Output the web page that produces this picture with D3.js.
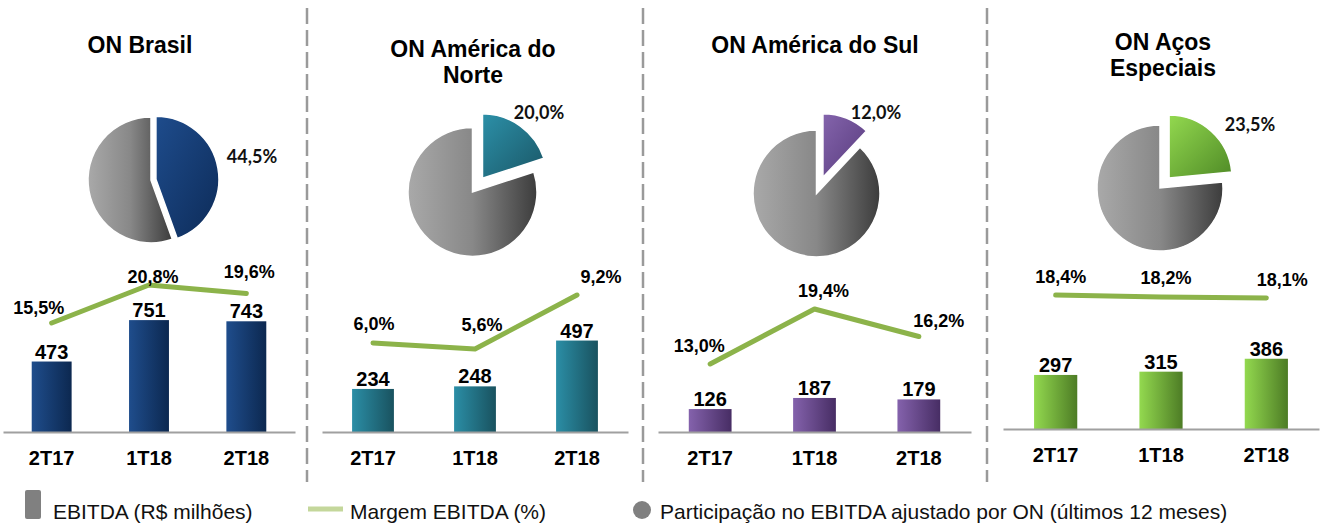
<!DOCTYPE html>
<html>
<head>
<meta charset="utf-8">
<script src="https://cdn.jsdelivr.net/npm/d3@7"></script>
<style>
  body { margin: 0; background: #fff; }
  svg { display: block; font-family: "Liberation Sans", Arial, sans-serif; }
</style>
</head>
<body>
<div id="viz-container"></div>
<script>
// data
let categories = ["2T17", "1T18", "2T18"];
let titles = [["ON Brasil"], ["ON América do", "Norte"], ["ON América do Sul"], ["ON Aços", "Especiais"]];
let ebitda = [[473, 751, 743], [234, 248, 497], [126, 187, 179], [297, 315, 386]];
let margem = [[15.5, 20.8, 19.6], [6.0, 5.6, 9.2], [13.0, 19.4, 16.2], [18.4, 18.2, 18.1]];
let participacao = [44.5, 20.0, 12.0, 23.5];
let legendItems = ["EBITDA (R$ milhões)", "Margem EBITDA (%)", "Participação no EBITDA ajustado por ON (últimos 12 meses)"];

// layout / style per panel
let panels = [
  { x0: 3, x1: 295, base: 432, px1000: 149, lineY: [323, 285], titleX: 140, titleY: [53],
    pie: { cx: 151, cy: 180, r: 63, explode: 5, lx: 252, ly: 163 },
    off: [[-13, -9], [4, -2], [3, -16]],
    bar: ["#1f4d8c", "#0c2850"], slice: ["#1e4c8c", "#0d2b58"] },
  { x0: 322, x1: 628, base: 432, px1000: 184, lineY: [349, 295], titleX: 473, titleY: [57, 83],
    pie: { cx: 472.5, cy: 192, r: 64.5, explode: 17, lx: 539, ly: 119 },
    off: [[1, -13], [7, -18], [24, -12]],
    bar: ["#2b8ea6", "#19525f"], slice: ["#2c90a8", "#1a5666"] },
  { x0: 658, x1: 971, base: 432, px1000: 182, lineY: [364, 309], titleX: 815, titleY: [53],
    pie: { cx: 816.5, cy: 193.5, r: 63.5, explode: 17.5, lx: 876, ly: 119 },
    off: [[-11, -12], [9, -12], [20, -10]],
    bar: ["#8462ac", "#472d64"], slice: ["#8464ac", "#573a7c"] },
  { x0: 1003, x1: 1319, base: 429, px1000: 182, lineY: [298, 295], titleX: 1163, titleY: [50, 76],
    pie: { cx: 1160, cy: 188, r: 63, explode: 13.5, lx: 1250, ly: 131 },
    off: [[5, -12], [5, -13], [16, -12]],
    bar: ["#93d94f", "#4d7c25"], slice: ["#93d94f", "#4f8a26"] }
];
let separators = [307, 643, 987];
let lineColor = "#8cb34a";

let W = 1321, H = 526;
let viz = d3.select("#viz-container")
  .append("svg")
    .attr("id", "viz")
    .attr("width", W)
    .attr("height", H)
  ;
let defs = viz.append("defs");

let grayGrad = defs.append("linearGradient").attr("id", "gray").attr("x1", 0).attr("x2", 1).attr("y1", 0).attr("y2", 0);
grayGrad.append("stop").attr("offset", "0%").attr("stop-color", "#a9a9a9");
grayGrad.append("stop").attr("offset", "50%").attr("stop-color", "#888888");
grayGrad.append("stop").attr("offset", "100%").attr("stop-color", "#3c3c3c");

// dashed separators
viz.selectAll("line.sep").data(separators).enter()
  .append("line")
    .attr("class", "sep")
    .attr("x1", d => d).attr("x2", d => d)
    .attr("y1", 8).attr("y2", 482)
    .style("stroke", "#9a9a9a")
    .style("stroke-width", 2.5)
    .style("stroke-dasharray", "16,6")
  ;

panels.forEach(function(p, i){
  let g = viz.append("g");

  let barGrad = defs.append("linearGradient").attr("id", "bar" + i).attr("x1", 0).attr("x2", 1).attr("y1", 0).attr("y2", 0);
  barGrad.append("stop").attr("offset", "0%").attr("stop-color", p.bar[0]);
  barGrad.append("stop").attr("offset", "100%").attr("stop-color", p.bar[1]);
  let sliceGrad = defs.append("linearGradient").attr("id", "slice" + i).attr("x1", 0).attr("x2", 1).attr("y1", 0).attr("y2", 1);
  sliceGrad.append("stop").attr("offset", "0%").attr("stop-color", p.slice[0]);
  sliceGrad.append("stop").attr("offset", "100%").attr("stop-color", p.slice[1]);

  // title
  g.selectAll("text.title").data(titles[i]).enter()
    .append("text")
      .attr("x", p.titleX)
      .attr("y", (d, j) => p.titleY[j])
      .attr("text-anchor", "middle")
      .style("font-size", "23px")
      .style("font-weight", "bold")
      .style("fill", "#000")
      .text(d => d)
    ;

  // pie
  let pie = d3.pie().sort(null).value(d => d);
  let arcs = pie([participacao[i], 100 - participacao[i]]);
  let arc = d3.arc().innerRadius(0).outerRadius(p.pie.r);
  let pg = g.append("g").attr("transform", "translate(" + p.pie.cx + "," + p.pie.cy + ")");
  pg.selectAll("path").data(arcs).enter()
    .append("path")
      .attr("d", arc)
      .attr("transform", function(d, j){
        if(j > 0) return null;
        let a = (d.startAngle + d.endAngle) / 2;
        return "translate(" + (Math.sin(a) * p.pie.explode) + "," + (-Math.cos(a) * p.pie.explode) + ")";
      })
      .style("fill", (d, j) => j == 0 ? "url(#slice" + i + ")" : "url(#gray)")
      .style("stroke", "#fff")
      .style("stroke-width", 1.5)
    ;
  g.append("text")
    .attr("x", p.pie.lx)
    .attr("y", p.pie.ly)
    .attr("text-anchor", "middle")
    .style("font-family", "Lato, 'Open Sans', sans-serif")
    .style("font-size", "18px")
    .style("font-weight", "bold")
    .style("fill", "#111")
    .text(d3.format(".1f")(participacao[i]).replace(".", ",") + "%");

  // bars
  let x = d3.scaleBand().domain(categories).range([p.x0, p.x1]).paddingInner(0.59).paddingOuter(0.295);
  let y = d3.scaleLinear().domain([0, 1000]).range([p.base, p.base - p.px1000]);
  let rows = categories.map((c, j) => ({ cat: c, v: ebitda[i][j], m: margem[i][j], off: p.off[j] }));

  g.selectAll("rect.bar").data(rows).enter()
    .append("rect")
      .attr("class", "bar")
      .attr("x", d => x(d.cat))
      .attr("width", x.bandwidth())
      .attr("y", d => y(d.v))
      .attr("height", d => p.base - y(d.v))
      .style("fill", "url(#bar" + i + ")")
    ;
  g.selectAll("text.val").data(rows).enter()
    .append("text")
      .attr("x", d => x(d.cat) + x.bandwidth() / 2)
      .attr("y", d => y(d.v) - 3)
      .attr("text-anchor", "middle")
      .style("font-size", "20px")
      .style("font-weight", "bold")
      .style("fill", "#000")
      .text(d => d.v)
    ;

  // axis
  let axis = g.append("g")
    .attr("transform", "translate(0," + p.base + ")")
    .call(d3.axisBottom(x).tickSize(0).tickPadding(19));
  axis.select(".domain").style("stroke", "#a0a0a0").style("stroke-width", 2);
  axis.selectAll("text")
    .style("font-family", "'Liberation Sans', Arial, sans-serif")
    .style("font-size", "20px")
    .style("font-weight", "bold")
    .style("fill", "#000");

  // margin line
  let ym = d3.scaleLinear().domain(d3.extent(margem[i])).range(p.lineY);
  let line = d3.line().x(d => x(d.cat) + x.bandwidth() / 2).y(d => ym(d.m));
  g.append("path")
    .datum(rows)
    .attr("d", line)
    .style("fill", "none")
    .style("stroke", lineColor)
    .style("stroke-width", 5)
    .style("stroke-linecap", "round")
    .style("stroke-linejoin", "round")
    ;
  g.selectAll("text.mg").data(rows).enter()
    .append("text")
      .attr("x", d => x(d.cat) + x.bandwidth() / 2 + d.off[0])
      .attr("y", d => ym(d.m) + d.off[1])
      .attr("text-anchor", "middle")
      .style("font-size", "18px")
      .style("font-weight", "bold")
      .style("fill", "#000")
      .text(d => d3.format(".1f")(d.m).replace(".", ",") + "%")
    ;
});

// legend
let lg = viz.append("g");
lg.append("rect")
  .attr("x", 25).attr("y", 490).attr("width", 16).attr("height", 29).attr("rx", 2)
  .style("fill", "#808080");
lg.append("line")
  .attr("x1", 308).attr("x2", 343).attr("y1", 509).attr("y2", 509)
  .style("stroke", "#c4d79b").style("stroke-width", 5);
lg.append("circle")
  .attr("cx", 642).attr("cy", 510).attr("r", 9)
  .style("fill", "#808080");
let legendX = [53, 350, 660];
lg.selectAll("text").data(legendItems).enter()
  .append("text")
    .attr("x", (d, j) => legendX[j])
    .attr("y", 519)
    .style("font-size", "21px")
    .style("fill", "#111")
    .text(d => d)
  ;
</script>
</body>
</html>
